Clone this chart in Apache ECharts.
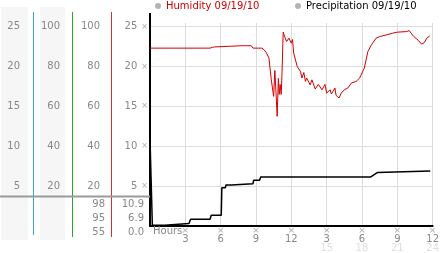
<!DOCTYPE html>
<html><head><meta charset="utf-8">
<script src="https://cdn.jsdelivr.net/npm/echarts@6/dist/echarts.min.js"></script>
<style>html,body{margin:0;padding:0;background:#fff}#c{width:442px;height:253px}</style>
</head><body><div id="c"></div>
<script>
// ---- data ----
const seriesNames = ['Humidity 09/19/10', 'Precipitation 09/19/10'];
const humHours = [0,5.1,5.2,5.3,5.4,5.5,5.6,7.8,7.9,8.0,8.1,8.2,8.6,8.75,9.5,9.7,9.9,10.1,10.3,10.5,10.6,10.7,10.8,10.9,10.97,11.05,11.14,11.2,11.31,11.45,11.6,11.8,12.0,12.1,12.2,12.5,12.78,12.9,13.06,13.2,13.3,13.6,13.75,14.03,14.3,14.6,14.86,15.0,15.3,15.4,15.7,15.8,16.05,16.25,16.5,16.8,17.1,17.5,17.8,18.2,18.5,18.8,19.2,19.5,20.06,20.6,21.0,21.8,22.0,22.4,22.8,23.06,23.3,23.5,23.75];
const humValues = [89.2,89.2,90.2,89.6,90.4,89.8,90.4,90.4,91.0,90.4,91.0,90.4,90.4,89.2,89.2,88.3,86.7,84.2,73.3,65,78,67,55,74,66,71,66,75,97.2,94.7,92.5,94.2,91.7,93.5,86.7,80,77.5,74.2,77,72.5,74.2,70.8,73.3,68.7,71,68.3,71,66.7,68.3,66.2,69.2,65.5,64.2,66.7,68.3,69.2,71.7,72.5,74.2,79.2,87.5,90.8,94.2,95,95.8,96.7,97.2,97.5,98,95,93,91.2,92,94.2,95.3];
const precipHours = [0,0.15,0.2,1.25,1.3,3.3,3.45,5.1,5.2,6.05,6.1,6.4,6.45,6.9,6.95,8.75,8.8,9.3,9.4,18.75,18.9,19.1,19.3,19.45,23.8];
const precipValues = [10.9,10.9,0.1,0.1,0.3,0.3,0.85,0.85,1.35,1.35,4.8,4.8,5.15,5.15,5.3,5.3,5.75,5.75,6.15,6.15,6.35,6.5,6.7,6.9,6.9];
const humStats = ['98', '95', '55'];
const precipStats = ['10.9', '6.9', '0.0'];

const FONT = 'DejaVu Sans';
const LBL = '#888';
const GRIDC = '#dcdcdc';

const humData = humHours.map((h, i) => [h, humValues[i]]);
const precipData = precipHours.map((h, i) => [h, precipValues[i]]);

const chart = echarts.init(document.getElementById('c'), null, {renderer: 'canvas'});

function yAxisBase(max, interval, step, margin) {
  return {
    type: 'value', position: 'left', offset: 0, min: 0, max: max, interval: interval,
    axisLine: {show: false}, axisTick: {show: false}, splitLine: {show: false},
    axisLabel: {
      margin: margin, color: LBL, fontFamily: FONT, fontSize: 10,
      formatter: v => (v > 0 && Math.abs(v % step) < 1e-6) ? String(v) : ''
    }
  };
}

const statTexts = [];
humStats.forEach((s, i) => statTexts.push({type: 'text', z: 5,
  style: {text: s, x: 105, y: 204 + i * 14, align: 'right', verticalAlign: 'middle', textAlign: 'right', textVerticalAlign: 'middle', fill: LBL, font: '10px "' + FONT + '"'}}));
precipStats.forEach((s, i) => statTexts.push({type: 'text', z: 5,
  style: {text: s, x: 144, y: 204 + i * 14, align: 'right', verticalAlign: 'middle', textAlign: 'right', textVerticalAlign: 'middle', fill: LBL, font: '10px "' + FONT + '"'}}));

const option = {
  animation: false,
  backgroundColor: '#fff',
  grid: {left: 150, right: 4, top: 23, bottom: 26.3, containLabel: false},
  legend: [
    {data: [{name: seriesNames[0], itemStyle: {color: '#b4b4b4'}, textStyle: {color: '#d00000'}}],
     left: 155, top: 1, padding: 0, icon: 'circle', itemWidth: 6, itemHeight: 6, selectedMode: false,
     textStyle: {fontFamily: FONT, fontSize: 10}},
    {data: [{name: seriesNames[1], itemStyle: {color: '#b4b4b4'}, textStyle: {color: '#000'}}],
     left: 295, top: 1, padding: 0, icon: 'circle', itemWidth: 6, itemHeight: 6, selectedMode: false,
     textStyle: {fontFamily: FONT, fontSize: 10}}
  ],
  xAxis: {
    type: 'value', min: 0, max: 24, interval: 3,
    axisLine: {show: true, lineStyle: {color: '#000', width: 2}},
    axisTick: {show: false},
    splitLine: {show: true, showMinLine: false, lineStyle: {color: GRIDC, width: 1}},
    axisLabel: {
      margin: 1,
      formatter: v => {
        if (v === 0) return '';
        const h = v > 12 ? v - 12 : v;
        let s = '{t|×}\n{n|' + h + '}';
        if (v > 12) s += '\n{g|' + v + '}';
        return s;
      },
      rich: {
        t: {fontSize: 9, color: '#aaa', lineHeight: 7, fontFamily: FONT, align: 'center'},
        n: {fontSize: 10, color: LBL, lineHeight: 10, fontFamily: FONT, align: 'center'},
        g: {fontSize: 10, color: '#e0e0e0', lineHeight: 8, fontFamily: FONT, align: 'center'}
      }
    }
  },
  yAxis: [
    {
      type: 'value', position: 'left', offset: 0, min: 0, max: 25.45, interval: 5,
      axisLine: {show: true, lineStyle: {color: '#000', width: 2}},
      axisTick: {show: false},
      splitLine: {show: true, showMaxLine: false, showMinLine: false, lineStyle: {color: GRIDC, width: 1}},
      axisLabel: {
        margin: 2, color: LBL, fontFamily: FONT, fontSize: 10,
        formatter: v => (v > 0 && Math.abs(v % 5) < 1e-6) ? v + '{t|×}' : '',
        rich: {t: {fontSize: 8, color: '#aaa', padding: [0, 0, 0, 4], fontFamily: FONT}}
      }
    },
    yAxisBase(101.8, 20, 20, 50),
    yAxisBase(101.8, 20, 20, 90),
    yAxisBase(25.45, 5, 5, 130)
  ],
  graphic: [
    {type: 'rect', z: -10, shape: {x: 1, y: 7, width: 27, height: 233}, style: {fill: '#f6f6f6'}},
    {type: 'rect', z: -10, shape: {x: 40, y: 7, width: 25, height: 233}, style: {fill: '#f6f6f6'}},
    {type: 'line', z: 3, shape: {x1: 33.5, y1: 12, x2: 33.5, y2: 235}, style: {stroke: '#3aa6d0', lineWidth: 1}},
    {type: 'line', z: 3, shape: {x1: 72.5, y1: 12, x2: 72.5, y2: 237}, style: {stroke: '#30a030', lineWidth: 1}},
    {type: 'line', z: 3, shape: {x1: 111.5, y1: 12, x2: 111.5, y2: 237}, style: {stroke: '#cc3333', lineWidth: 1}},
    {type: 'line', z: 4, shape: {x1: 0, y1: 196.5, x2: 150, y2: 196.5}, style: {stroke: '#9a9a9a', lineWidth: 2}},
    {type: 'line', z: 4, shape: {x1: 150, y1: 13, x2: 150, y2: 24}, style: {stroke: '#000', lineWidth: 2}},
    {type: 'text', z: 5, style: {text: 'Hours', x: 153, y: 231.5, align: 'left', verticalAlign: 'middle', textAlign: 'left', textVerticalAlign: 'middle', fill: LBL, font: '10px "' + FONT + '"'}}
  ].concat(statTexts),
  series: [
    {name: seriesNames[0], type: 'line', yAxisIndex: 1, data: humData, showSymbol: false, symbol: 'none',
     lineStyle: {color: '#d40000', width: 1}, itemStyle: {color: '#d40000'}, z: 3},
    {name: seriesNames[1], type: 'line', yAxisIndex: 0, data: precipData, showSymbol: false, symbol: 'none',
     lineStyle: {color: '#000', width: 1.5}, itemStyle: {color: '#000'}, z: 4}
  ]
};
chart.setOption(option);
</script>
</body></html>
